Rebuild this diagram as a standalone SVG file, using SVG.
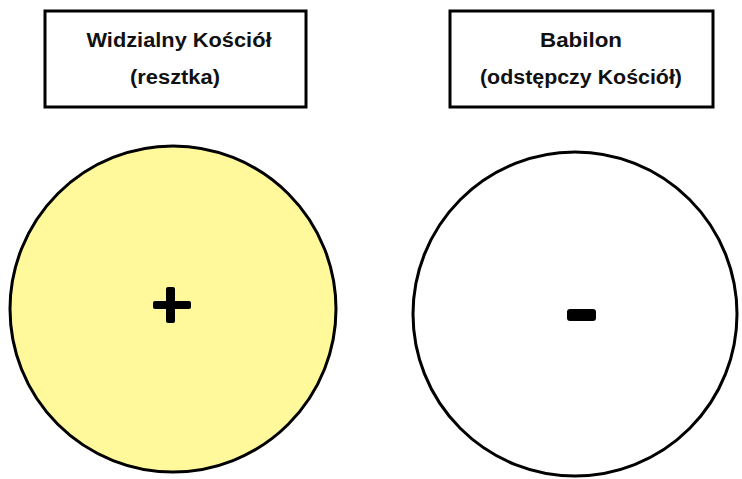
<svg xmlns="http://www.w3.org/2000/svg" width="742" height="479" viewBox="0 0 742 479">
<style>
.box{fill:#fff;stroke:#000;stroke-width:3}
.lbl{font-family:"Liberation Sans",Arial,sans-serif;font-weight:bold;font-size:19.5px;fill:#111;text-anchor:middle}
.circ{stroke:#000;stroke-width:3}
</style>
<rect width="742" height="479" fill="#fff"/>
<g id="label-left">
<rect class="box" x="45" y="11" width="261" height="96"/>
<text class="lbl" x="179" y="47" textLength="185" lengthAdjust="spacingAndGlyphs">Widzialny Kościół</text>
<text class="lbl" x="175" y="84" textLength="90" lengthAdjust="spacingAndGlyphs">(resztka)</text>
</g>
<g id="label-right">
<rect class="box" x="450" y="11" width="263" height="96"/>
<text class="lbl" x="581" y="47" textLength="82" lengthAdjust="spacingAndGlyphs">Babilon</text>
<text class="lbl" x="581" y="84" textLength="202" lengthAdjust="spacingAndGlyphs">(odstępczy Kościół)</text>
</g>
<g id="circle-left">
<circle class="circ" cx="173" cy="309" r="163" fill="#FFF99C"/>
<rect x="166" y="287" width="9" height="36" rx="2" fill="#000"/>
<rect x="153" y="301" width="38" height="8" rx="2" fill="#000"/>
</g>
<g id="circle-right">
<circle class="circ" cx="575" cy="314" r="162" fill="#fff"/>
<rect x="567" y="309" width="29" height="12" rx="3" fill="#000"/>
</g>
</svg>
